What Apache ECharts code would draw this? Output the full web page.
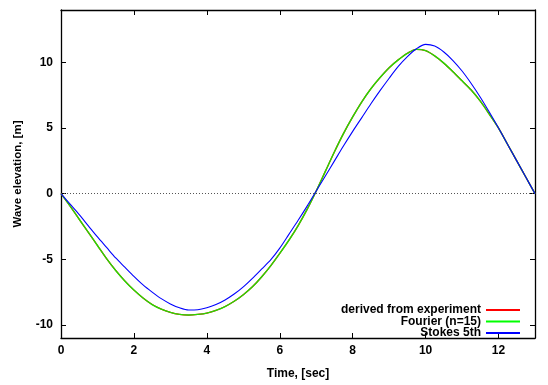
<!DOCTYPE html>
<html><head><meta charset="utf-8">
<script src="https://cdn.jsdelivr.net/npm/echarts@6/dist/echarts.min.js"></script>
<style>html,body{margin:0;padding:0;background:#fff}#c{width:548px;height:385px}</style>
</head><body><div id="c"></div>
<script>
const time = [0,0.25,0.5,0.75,1,1.25,1.5,1.75,2,2.25,2.5,2.75,3,3.25,3.5,3.75,4,4.25,4.5,4.75,5,5.25,5.5,5.75,6,6.25,6.5,6.75,7,7.25,7.5,7.75,8,8.25,8.5,8.75,9,9.25,9.5,9.75,10,10.25,10.5,10.75,11,11.25,11.5,11.75,12,12.25,12.5,12.75,13];
const stokes5 = [0,-0.8,-1.6,-2.45,-3.3,-4.1,-4.9,-5.6,-6.3,-6.95,-7.5,-8.0,-8.4,-8.7,-8.87,-8.85,-8.7,-8.45,-8.1,-7.65,-7.1,-6.45,-5.75,-5.05,-4.15,-3.1,-2.05,-0.95,0.2,1.35,2.5,3.65,4.75,5.8,6.85,7.85,8.8,9.7,10.45,11.05,11.38,11.25,10.8,10.15,9.35,8.4,7.35,6.2,5.0,3.75,2.5,1.25,0];
const fourier15 = [0,-0.95,-1.95,-2.95,-3.95,-4.95,-5.85,-6.65,-7.35,-7.95,-8.45,-8.8,-9.05,-9.2,-9.25,-9.2,-9.1,-8.9,-8.6,-8.2,-7.7,-7.1,-6.35,-5.5,-4.55,-3.55,-2.45,-1.2,0.2,1.7,3.2,4.6,5.85,7.0,8.0,8.85,9.6,10.2,10.7,11.0,10.9,10.5,9.95,9.3,8.6,7.9,7.05,6.05,5.0,3.75,2.5,1.25,0];
const experiment = [0,-0.95,-1.95,-2.95,-3.95,-4.95,-5.85,-6.65,-7.35,-7.95,-8.45,-8.8,-9.05,-9.2,-9.25,-9.2,-9.1,-8.9,-8.6,-8.2,-7.7,-7.1,-6.35,-5.5,-4.55,-3.55,-2.45,-1.2,0.2,1.7,3.2,4.6,5.85,7.0,8.0,8.85,9.6,10.2,10.7,11.0,10.9,10.5,9.95,9.3,8.6,7.9,7.05,6.05,5.0,3.75,2.5,1.25,0];
const xTicks = [0,2,4,6,8,10,12];
const yTicks = [-10,-5,0,5,10];
const seriesNames = ['derived from experiment','Fourier (n=15)','Stokes 5th'];

const zip = (a,b) => a.map((v,i)=>[v,b[i]]);
const font = 'Liberation Sans, Arial, sans-serif';
const axisLineStyle = {show:true, onZero:false, lineStyle:{color:'#000', width:1.3}};
function xAx(pos, labels){
  return {type:'value', position:pos, min:0, max:13,
    axisLine:axisLineStyle,
    axisTick:{show:true, inside:true, length:5, customValues:xTicks, lineStyle:{color:'#000'}},
    axisLabel:{show:labels, customValues:xTicks, margin:7, color:'#000', fontFamily:font, fontWeight:'bold', fontSize:12},
    splitLine:{show:false},
    name: labels ? 'Time, [sec]' : '', nameLocation:'middle', nameGap:30,
    nameTextStyle:{color:'#000', fontFamily:font, fontWeight:'bold', fontSize:12}};
}
function yAx(pos, labels){
  return {type:'value', position:pos, min:-11, max:14,
    axisLine:axisLineStyle,
    axisTick:{show:true, inside:true, length:5, customValues:yTicks, lineStyle:{color:'#000'}},
    axisLabel:{show:labels, customValues:yTicks, margin:8, color:'#000', fontFamily:font, fontWeight:'bold', fontSize:12},
    splitLine:{show:false},
    name: labels ? 'Wave elevation, [m]' : '', nameLocation:'middle', nameGap:37,
    nameTextStyle:{color:'#000', fontFamily:font, fontWeight:'bold', fontSize:11.5}};
}
const chart = echarts.init(document.getElementById('c'), null, {renderer:'canvas'});
chart.setOption({
  animation:false,
  backgroundColor:'#fff',
  grid:{left:61, top:10, right:13, bottom:42, containLabel:false},
  xAxis:[xAx('bottom',true), xAx('top',false)],
  yAxis:[yAx('left',true), yAx('right',false)],
  legend:{orient:'vertical', right:23, bottom:41, align:'right', itemWidth:34, itemHeight:2, itemGap:-0.5,
    icon:'rect', data:seriesNames,
    textStyle:{color:'#000', fontFamily:font, fontWeight:'bold', fontSize:12}},
  series:[
    {name:seriesNames[0], type:'line', data:zip(time, experiment), smooth:0.3, symbol:'none',
      lineStyle:{color:'#ff0000', width:1.3}, itemStyle:{color:'#ff0000'},
      markLine:{silent:true, symbol:'none', label:{show:false},
        lineStyle:{color:'#555', type:[1,2], width:1}, data:[{yAxis:0}]}},
    {name:seriesNames[1], type:'line', data:zip(time, fourier15), smooth:0.3, symbol:'none',
      lineStyle:{color:'#22dd00', width:1.4}, itemStyle:{color:'#00ff00'}},
    {name:seriesNames[2], type:'line', data:zip(time, stokes5), smooth:0.3, symbol:'none',
      lineStyle:{color:'#0000ff', width:1.1}, itemStyle:{color:'#0000ff'}}
  ]
});
</script></body></html>
